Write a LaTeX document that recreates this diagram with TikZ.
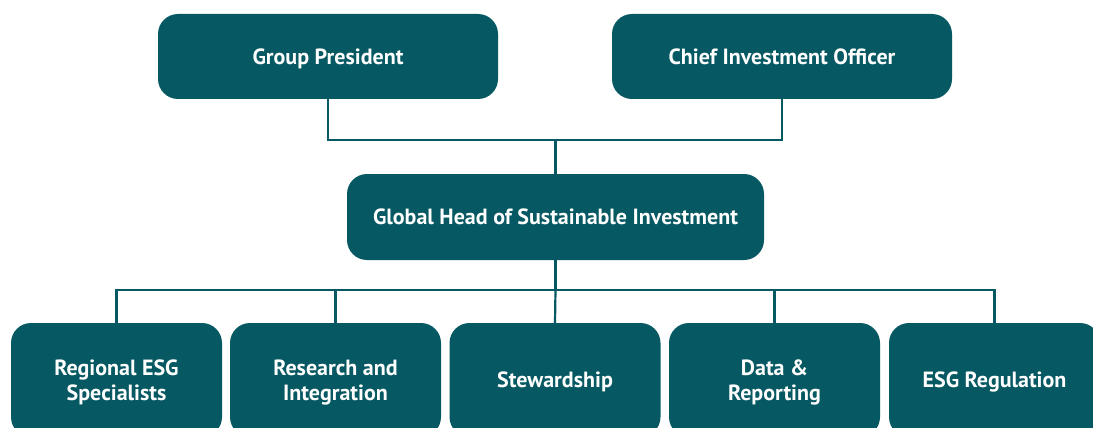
\documentclass[tikz,border=0pt]{standalone}
\usepackage{fontspec}
\setmainfont{PT Sans}
\definecolor{teal}{HTML}{065862}
\begin{document}
\begin{tikzpicture}[x=1pt,y=-1pt,
  box/.style={rectangle, rounded corners=20pt, fill=teal, text=white, font=\bfseries\fontsize{22}{25}\selectfont, align=center, inner sep=0pt, text depth=0pt},
  topbox/.style={box, minimum width=340pt, minimum height=85pt},
  subbox/.style={box, minimum width=211pt, minimum height=114pt},
  link/.style={draw=teal, line width=2.2pt}]
\clip (0,0) rectangle (1093,428);
\useasboundingbox (0,0) rectangle (1093,428);
\node[topbox] (gp) at (328,56.5) {Group President};
\node[topbox] (cio) at (782,56.5) {Chief Investment Officer};
\node[box, minimum width=417pt, minimum height=86pt] (gh) at (555.5,217) {Global Head of Sustainable Investment};
\node[subbox] (b1) at (116.5,380) {Regional ESG\\Specialists};
\node[subbox] (b2) at (335.5,380) {Research and\\Integration};
\node[subbox] (b3) at (555,380) {Stewardship};
\node[subbox] (b4) at (774.5,380) {Data \&\\Reporting};
\node[subbox] (b5) at (994.5,380) {ESG Regulation};
\coordinate (j1) at (555.5,140);
\coordinate (j2) at (555.5,290);
\draw[link] (gp.south) |- (j1) -| (cio.south);
\draw[link] (j1) -- (gh.north);
\draw[link] (gh.south) -- (j2);
\draw[link] (b1.north) |- (j2) -| (b5.north);
\draw[link] (b2.north) |- (j2);
\draw[link] (b4.north) |- (j2);
\draw[link] (b3.north) -- (j2);
\end{tikzpicture}
\end{document}
